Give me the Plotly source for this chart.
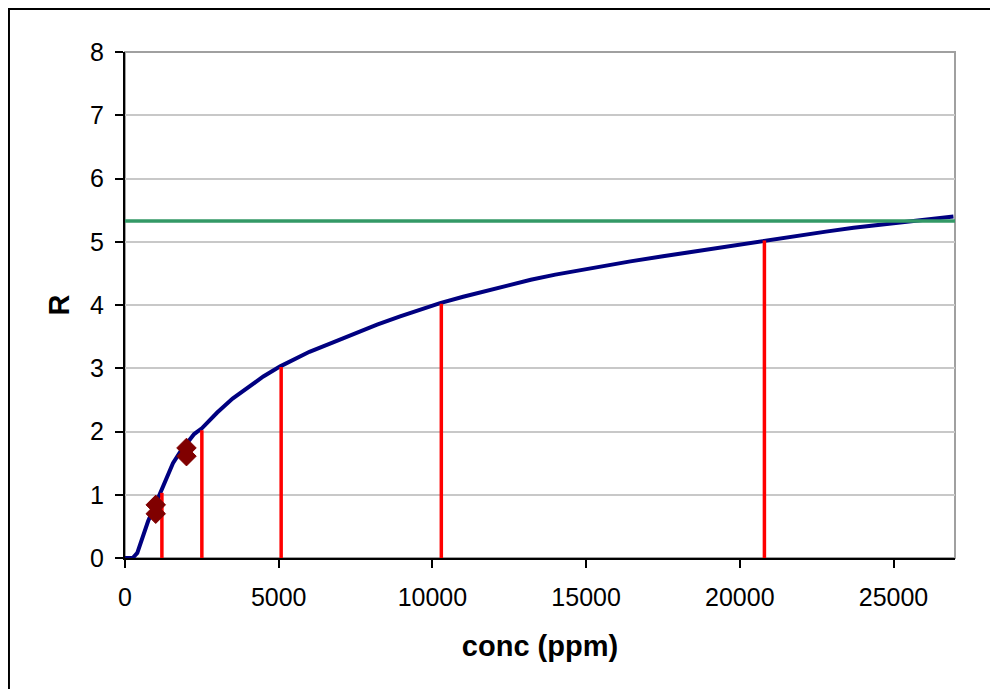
import plotly.graph_objects as go

# Calibration curve
curve_conc = [0, 250, 400, 500, 750, 1000, 1140, 1350, 1560, 1800, 2020, 2250, 2500,
              3000, 3500, 4000, 4500, 5050, 5500, 6000, 6770, 7500, 8200, 8950, 9600,
              10250, 11000, 11800, 12500, 13200, 14000, 15000, 15700, 16440, 17500,
              18700, 19700, 20800, 21800, 22800, 23700, 24600, 25500, 26300, 26950]
curve_R = [0.0, 0.0, 0.08, 0.22, 0.58, 0.86, 1.03, 1.28, 1.50, 1.68, 1.83, 1.96, 2.05,
           2.30, 2.52, 2.70, 2.87, 3.03, 3.14, 3.26, 3.41, 3.56, 3.69, 3.82, 3.93,
           4.03, 4.13, 4.23, 4.32, 4.40, 4.48, 4.57, 4.63, 4.69, 4.77,
           4.86, 4.94, 5.02, 5.09, 5.16, 5.22, 5.27, 5.32, 5.36, 5.40]

# Measured points
meas_conc = [1000, 1000, 2000, 2000]
meas_R = [0.84, 0.70, 1.74, 1.61]

# Vertical reference lines (conc at R = 1..5)
ref_conc = [1200, 2500, 5080, 10290, 20800]
ref_R = [1.03, 2.02, 3.02, 4.02, 5.02]

# Horizontal level
level_R = 5.33
level_conc = [0, 27000]

x_ticks = [0, 5000, 10000, 15000, 20000, 25000]
y_ticks = [0, 1, 2, 3, 4, 5, 6, 7, 8]

fig = go.Figure()

fig.add_trace(go.Scatter(x=curve_conc, y=curve_R, mode="lines",
                         line=dict(color="#000080", width=4), showlegend=False))

fig.add_trace(go.Scatter(x=level_conc, y=[level_R, level_R], mode="lines",
                         line=dict(color="#339966", width=3.5), showlegend=False))

rx, ry = [], []
for c, r in zip(ref_conc, ref_R):
    rx += [c, c, None]
    ry += [0, r, None]
fig.add_trace(go.Scatter(x=rx, y=ry, mode="lines",
                         line=dict(color="#FF0000", width=3.5), showlegend=False))

fig.add_trace(go.Scatter(x=meas_conc, y=meas_R, mode="markers",
                         marker=dict(symbol="diamond", size=15, color="#800000",
                                     line=dict(color="#800000", width=1)),
                         showlegend=False))

font_family = "Liberation Sans, Arial, sans-serif"

fig.update_layout(
    width=990, height=681,
    margin=dict(l=117, r=43, t=44, b=131),
    paper_bgcolor="white", plot_bgcolor="white",
    font=dict(family=font_family, size=25, color="black"),
    xaxis=dict(range=[0, 27000], tickvals=x_ticks, ticktext=[str(v) for v in x_ticks],
               showgrid=False, zeroline=False, showline=True, linecolor="black",
               linewidth=2, ticks="outside", ticklen=8, tickwidth=2, tickcolor="black",
               ticklabelstandoff=8,
               title=dict(text="<b>conc (ppm)</b>", font=dict(size=29), standoff=26)),
    yaxis=dict(range=[0, 8], tickvals=y_ticks, showgrid=True, gridcolor="#C8C8C8",
               gridwidth=2, zeroline=False, showline=True, linecolor="black",
               linewidth=2, ticks="outside", ticklen=8, tickwidth=2, tickcolor="black",
               ticklabelstandoff=6,
               title=dict(text="<b>R</b>", font=dict(size=29), standoff=12)),
    shapes=[
        dict(type="rect", xref="paper", yref="paper", x0=0, x1=1, y0=0, y1=1,
             line=dict(color="#A0A0A0", width=2), layer="below"),
        dict(type="rect", xref="paper", yref="paper", x0=-0.1398, x1=1.0506,
             y0=-0.28, y1=1.085, line=dict(color="black", width=2), layer="below"),
    ],
)

fig.write_html("out.html")
